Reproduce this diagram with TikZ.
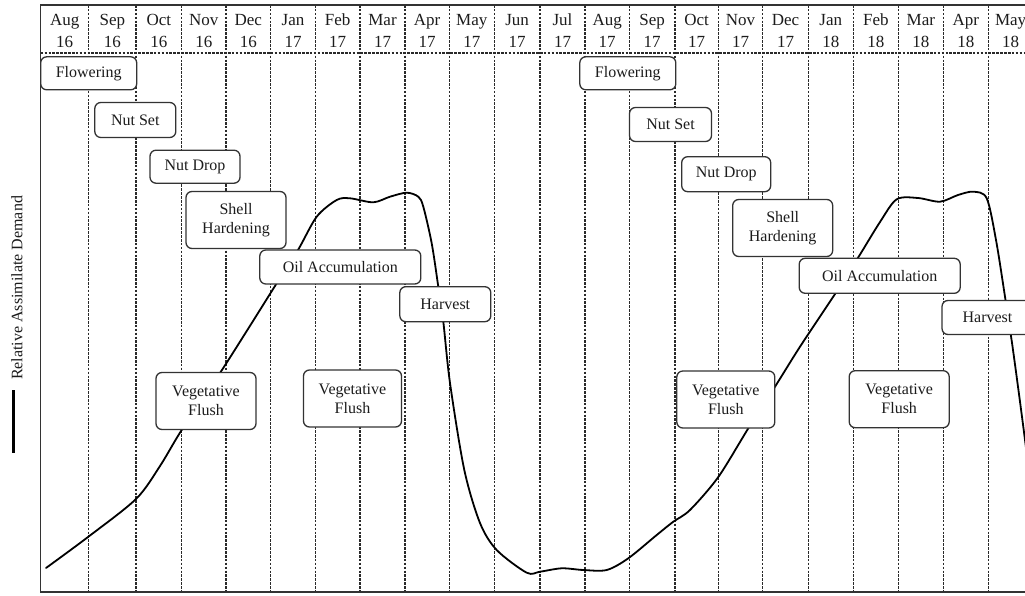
\documentclass[tikz,border=0pt]{standalone}
\usepackage{fontspec}
\setmainfont{Liberation Serif}
\usepackage{xcolor}
\definecolor{chink}{HTML}{1C1C1C}
\definecolor{chline}{HTML}{333333}
\definecolor{chgrid}{HTML}{2A2A2A}
\tikzset{
  phase/.style={rectangle,rounded corners=6pt,draw=chline,line width=1.3pt,
                fill=white,inner sep=0pt,minimum height=34pt,align=center,
                font=\fontsize{16}{19}\selectfont,text=chink},
  phasetall/.style={phase,minimum height=57pt,minimum width=100pt},
  grid/.style={draw=chgrid,line width=1.1pt,dash pattern=on 2.6pt off 1.3pt},
  frame/.style={draw=chline,line width=1.5pt},
  demand/.style={draw=black,line width=1.8pt,line join=round,line cap=round},
  month/.style={align=center,font=\fontsize{17}{22}\selectfont,text=chink},
}

\begin{document}
\begin{tikzpicture}[x=1pt,y=-1pt]
\useasboundingbox (0,0) rectangle (1025,596);
\fill[white] (0,0) rectangle (1025,596);
% month grid
\foreach \x in {88.7,136,181.7,226,270.7,315.3,360,405,449.3,494.3,540,585,
                629.3,675,718.3,762.7,808.3,853.3,898.3,943.3,988.3}
  \draw[grid] (\x,5) -- (\x,592);
\draw[grid] (40.7,53) -- (1040,53);
\draw[frame] (1040,5) -- (40.7,5) -- (40.7,592) -- (1040,592);
% month labels
\foreach \xl/\xr/\m/\yy [count=\i] in {40.7/88.7/Aug/16, 88.7/136/Sep/16,
    136/181.7/Oct/16, 181.7/226/Nov/16, 226/270.7/Dec/16, 270.7/315.3/Jan/17,
    315.3/360/Feb/17, 360/405/Mar/17, 405/449.3/Apr/17, 449.3/494.3/May/17,
    494.3/540/Jun/17, 540/585/Jul/17, 585/629.3/Aug/17, 629.3/675/Sep/17,
    675/718.3/Oct/17, 718.3/762.7/Nov/17, 762.7/808.3/Dec/17, 808.3/853.3/Jan/18,
    853.3/898.3/Feb/18, 898.3/943.3/Mar/18, 943.3/988.3/Apr/18, 988.3/1033/May/18}
  \node[month] (m\i) at ({(\xl+\xr)/2},31) {\m\\\yy};
% demand curve
\draw[demand] plot[smooth,tension=0.5] coordinates {
  (46,568) (88,537) (136,499) (160,466) (181.7,430) (220,373) (248,329)
  (275,286) (298,250) (316.7,216.7) (336.7,200) (350,198.3) (373.3,202.3)
  (390,196.7) (406.7,192.7) (418.3,196.7) (423.3,206.7) (431.7,243.3)
  (438.3,286.7) (443.3,321.7) (450,383) (464.3,470) (480,523) (496.7,550)
  (526.7,572.7) (540,571.7) (561.7,568.3) (583.3,570) (606.7,570)
  (628.3,558.3) (656.7,535) (673.3,521.7) (690,510) (718.3,477)
  (748.3,428.3) (775,386.7) (800,346.7) (835,294) (858.3,257.3)
  (880,222) (896.7,199.3) (918,198) (940,201.7) (958,195) (973.3,191.7)
  (986.7,198.3) (996,240) (1005,296.7) (1013,350) (1025,440) (1032,500)};
% first season
\node[phase,minimum width=96pt,minimum height=33pt] (flower1) at (88.7,73.3) {Flowering};
\node[phase,minimum width=81pt,minimum height=35pt] (set1) at (135.3,120) {Nut Set};
\node[phase,minimum width=90pt,minimum height=33pt] (drop1) at (195,166.7) {Nut Drop};
\node[phasetall] (shell1) at (236,220) {Shell\\Hardening};
\node[phase,minimum width=161pt] (oil1) at (340.3,267) {Oil Accumulation};
\node[phase,minimum width=91pt,minimum height=35pt] (harvest1) at (445.3,304.2) {Harvest};
\node[phasetall] (flush1) at (206,401) {Vegetative\\Flush};
\node[phasetall,minimum width=98pt] (flush2) at (352.5,398.5) {Vegetative\\Flush};
% second season
\node[phase,minimum width=96pt,minimum height=33pt] (flower2) at (627.8,73.3) {Flowering};
\node[phase,minimum width=82pt] (set2) at (670.5,124.5) {Nut Set};
\node[phase,minimum width=89pt,minimum height=35pt] (drop2) at (726.2,174.2) {Nut Drop};
\node[phasetall] (shell2) at (782.7,228) {Shell\\Hardening};
\node[phase,minimum width=161pt,minimum height=35pt] (oil2) at (879.7,275.8) {Oil Accumulation};
\node[phase,minimum width=91pt] (harvest2) at (987.5,317.5) {Harvest};
\node[phasetall,minimum width=98pt] (flush3) at (725.8,399.5) {Vegetative\\Flush};
\node[phasetall] (flush4) at (899.2,399.2) {Vegetative\\Flush};
% axis legend
\draw[black,line width=2.6pt] (13.3,390) -- (13.3,453);
\node[rotate=90,font=\fontsize{16}{19}\selectfont,text=chink] (ylab) at (17,288) {Relative Assimilate Demand};
\end{tikzpicture}
\end{document}
